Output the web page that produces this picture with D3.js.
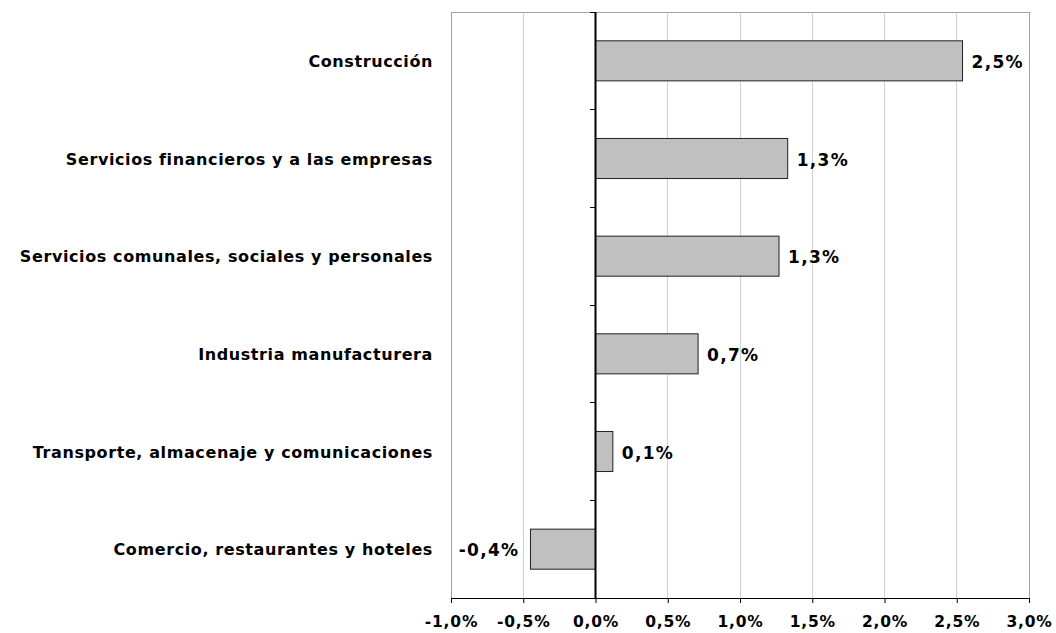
<!DOCTYPE html>
<html><head><meta charset="utf-8">
<script src="https://cdn.jsdelivr.net/npm/d3@7"></script>
<style>body{margin:0;background:#fff;} svg{display:block;}</style>
</head><body>
<svg id="c" width="1056" height="633"></svg>
<script>
const categories = [
  "Construcción",
  "Servicios financieros y a las empresas",
  "Servicios comunales, sociales y personales",
  "Industria manufacturera",
  "Transporte, almacenaje y comunicaciones",
  "Comercio, restaurantes y hoteles"
];
const values = [2.54, 1.33, 1.27, 0.71, 0.12, -0.45];
const valueLabels = ["2,5%", "1,3%", "1,3%", "0,7%", "0,1%", "-0,4%"];
const xTicks = [-1, -0.5, 0, 0.5, 1, 1.5, 2, 2.5, 3];
const xTickLabels = ["-1,0%", "-0,5%", "0,0%", "0,5%", "1,0%", "1,5%", "2,0%", "2,5%", "3,0%"];

const svg = d3.select("#c");
const L = 451, R = 1029, T = 12, B = 598;
const font = "Verdana, 'DejaVu Sans', sans-serif";

const x = d3.scaleLinear().domain([-1, 3]).range([L, R]);
const y = d3.scaleBand().domain(categories).range([T, B]).paddingInner(0.59).paddingOuter(0.295);

// gridlines
svg.append("g").selectAll("line").data(xTicks.filter(d => d !== 0 && d !== -1 && d !== 3)).join("line")
  .attr("x1", d => x(d)).attr("x2", d => x(d)).attr("y1", T).attr("y2", B)
  .attr("stroke", "#d0d0d0").attr("stroke-width", 1).attr("shape-rendering", "crispEdges");

// plot border
svg.append("rect").attr("x", L).attr("y", T).attr("width", R - L).attr("height", B - T)
  .attr("fill", "none").attr("stroke", "#a0a0a0").attr("stroke-width", 1).attr("shape-rendering", "crispEdges");

// bars
svg.append("g").selectAll("rect").data(values).join("rect")
  .attr("x", d => x(Math.min(0, d)))
  .attr("width", d => Math.abs(x(d) - x(0)))
  .attr("y", (d, i) => y(categories[i]))
  .attr("height", y.bandwidth())
  .attr("fill", "#c0c0c0").attr("stroke", "#222").attr("stroke-width", 1);

// x axis
const xAxis = d3.axisBottom(x).tickValues(xTicks).tickSize(5).tickFormat((d, i) => xTickLabels[i]);
const gx = svg.append("g").attr("transform", `translate(0,${B})`).call(xAxis);
gx.select(".domain").attr("stroke", "#000");
gx.selectAll(".tick line").attr("stroke", "#000");
gx.selectAll("text").attr("font-family", font).attr("font-weight", "bold").attr("font-size", 15.5)
  .attr("letter-spacing", 0.8).attr("fill", "#000").attr("y", 29).attr("dy", null);

// vertical zero axis with ticks at band boundaries
svg.append("line").attr("x1", x(0)).attr("x2", x(0)).attr("y1", T).attr("y2", B)
  .attr("stroke", "#000").attr("stroke-width", 2);
const bounds = d3.range(categories.length + 1).map(i => T + i * y.step());
svg.append("g").selectAll("line").data(bounds).join("line")
  .attr("x1", x(0) - 6).attr("x2", x(0)).attr("y1", d => d).attr("y2", d => d)
  .attr("stroke", "#000").attr("stroke-width", 1).attr("shape-rendering", "crispEdges");

// category labels
svg.append("g").selectAll("text").data(categories).join("text")
  .attr("x", 433).attr("y", d => y(d) + y.bandwidth() / 2)
  .attr("dy", "0.38em").attr("text-anchor", "end")
  .attr("font-family", font).attr("font-weight", "bold").attr("font-size", 16).attr("letter-spacing", 0.6)
  .attr("fill", "#000")
  .text(d => d);

// value labels
svg.append("g").selectAll("text").data(values).join("text")
  .attr("x", d => d >= 0 ? x(d) + 9 : x(d) - 11)
  .attr("y", (d, i) => y(categories[i]) + y.bandwidth() / 2)
  .attr("dy", "0.42em").attr("text-anchor", d => d >= 0 ? "start" : "end")
  .attr("font-family", font).attr("font-weight", "bold").attr("font-size", 17).attr("letter-spacing", 1.3)
  .attr("fill", "#000")
  .text((d, i) => valueLabels[i]);
</script>
</body></html>
